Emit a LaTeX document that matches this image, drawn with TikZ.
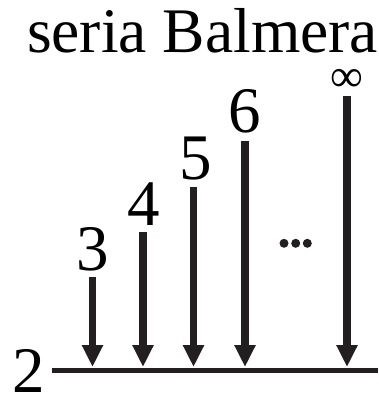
\documentclass[tikz,border=0pt]{standalone}
\usepackage{fontspec}
\setmainfont{Liberation Serif}
\usetikzlibrary{arrows.meta}
\definecolor{ink}{RGB}{35,31,32}
\begin{document}
\begin{tikzpicture}[x=1pt,y=-1pt,
  lvl/.style={line width=7.5pt,ink,-{Triangle[width=20pt,length=22pt]}},
  digit/.style={anchor=base,inner sep=0pt,text depth=0pt,font=\fontsize{65}{65}\selectfont},
  dot/.style={circle,fill=ink,inner sep=0pt,minimum size=9pt}]
\useasboundingbox (0,0) rectangle (378,395);
\node[anchor=base,inner sep=0pt,text depth=0pt,font=\fontsize{63.5}{63.5}\selectfont] (title) at (202.5,53) {seria Balmera};
\node[digit] (n2) at (29,392) {2};
\coordinate (l0) at (52,370.8);
\coordinate (l1) at (378,370.8);
\draw[line width=5pt,ink] (l0) -- (l1);
\node[digit] (n3) at (93,270) {3};
\node[digit] (n4) at (143.3,225) {4};
\node[digit] (n5) at (195.5,179) {5};
\node[digit] (n6) at (245,133) {6};
\node[anchor=center,inner sep=0pt,text depth=0pt,font=\fontsize{46}{46}\selectfont] (ninf) at (347,80) {∞};
\coordinate (t3) at (92.5,277);  \coordinate (b3) at (92.5,367);
\coordinate (t4) at (143,232);   \coordinate (b4) at (143,367);
\coordinate (t5) at (193.5,187); \coordinate (b5) at (193.5,367);
\coordinate (t6) at (245,141);   \coordinate (b6) at (245,367);
\coordinate (ti) at (347,96);    \coordinate (bi) at (347,367);
\draw[lvl] (t3) -- (b3);
\draw[lvl] (t4) -- (b4);
\draw[lvl] (t5) -- (b5);
\draw[lvl] (t6) -- (b6);
\draw[lvl] (ti) -- (bi);
\node[dot] (d1) at (284,243.3) {};
\node[dot] (d2) at (295.7,243.3) {};
\node[dot] (d3) at (307.3,243.3) {};
\end{tikzpicture}
\end{document}
